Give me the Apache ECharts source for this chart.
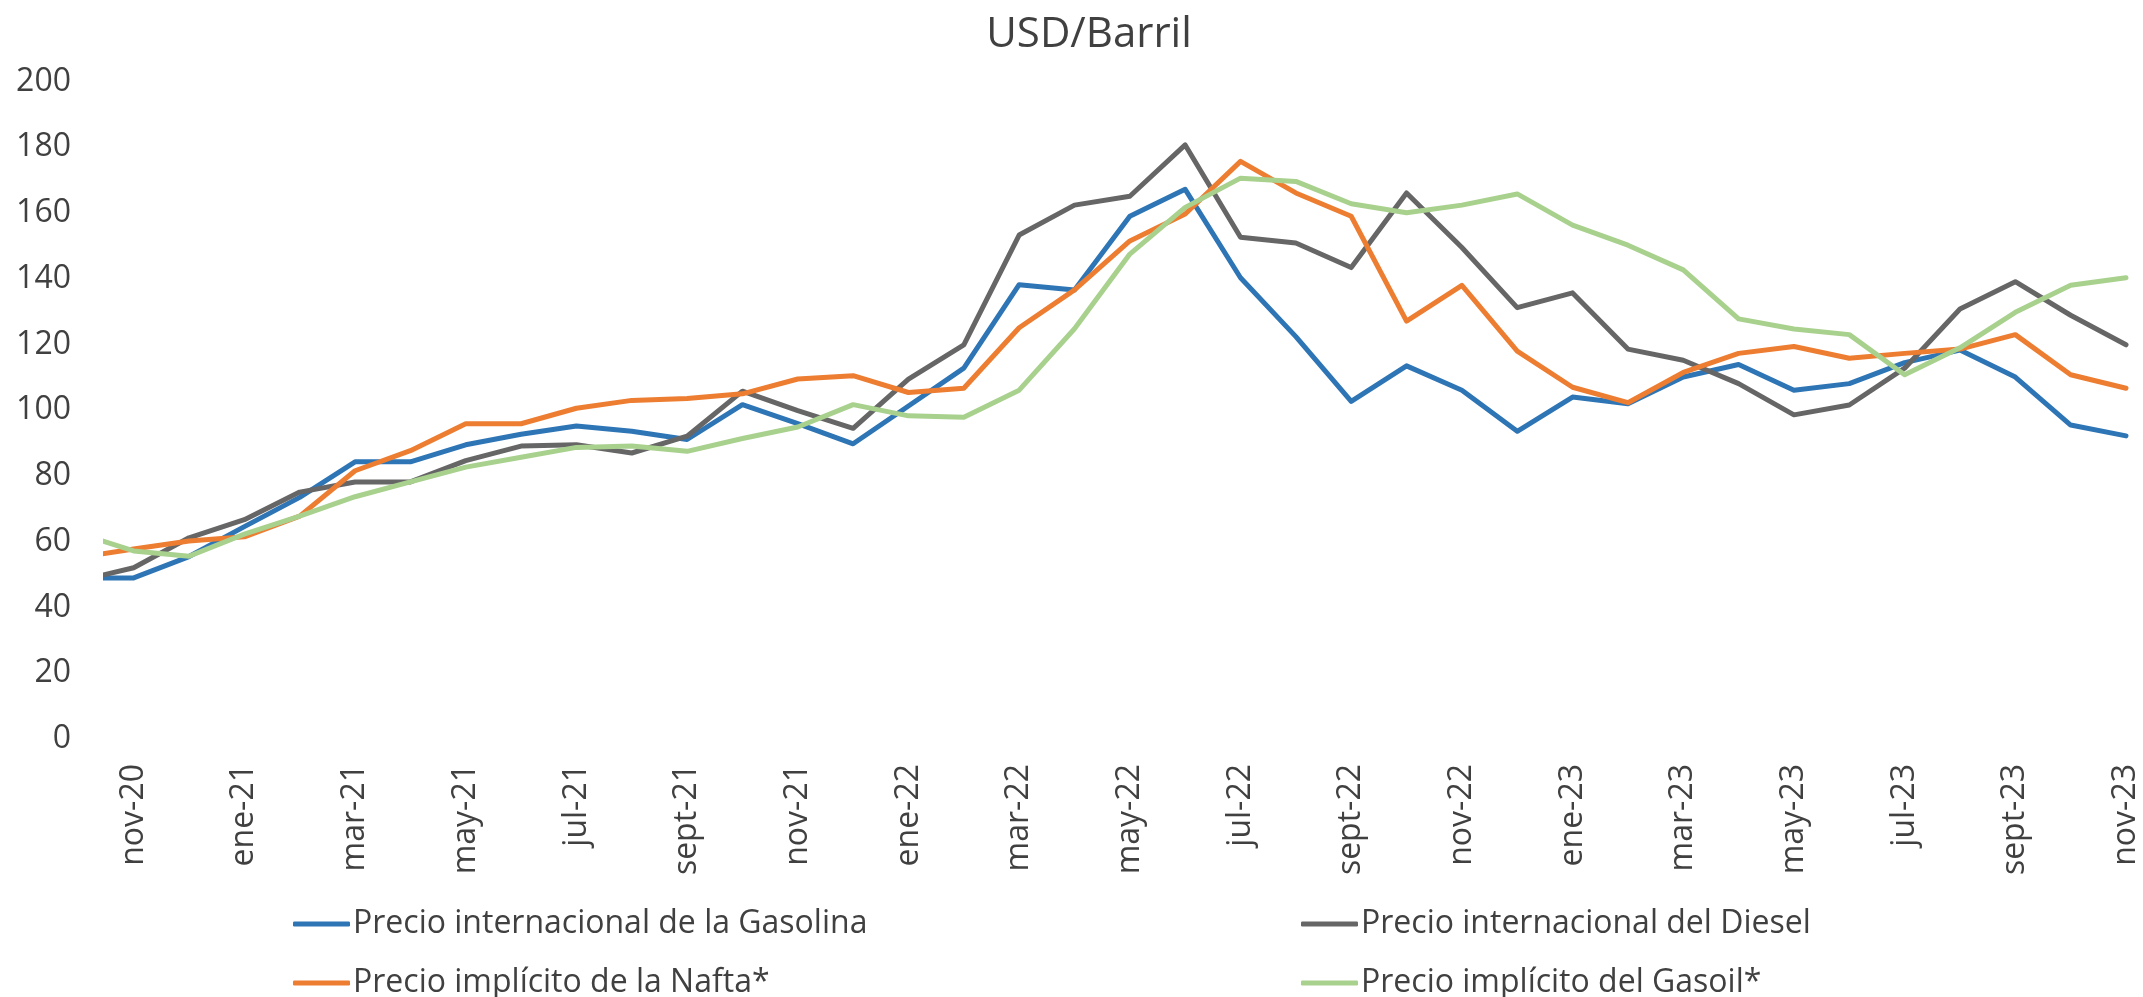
<!DOCTYPE html>
<html>
<head>
<meta charset="utf-8">
<script src="https://cdn.jsdelivr.net/npm/echarts@6.0.0/dist/echarts.min.js"></script>
<style>
html,body{margin:0;padding:0;background:#fff;}
#chart{width:2143px;height:997px;}
</style>
</head>
<body>
<div id="chart"></div>
<script>
// Months (first month oct-20 lies just outside the visible axis, as in the reference)
const months = ['oct-20','nov-20','dic-20','ene-21','feb-21','mar-21','abr-21','may-21','jun-21','jul-21','ago-21','sept-21','oct-21','nov-21','dic-21','ene-22','feb-22','mar-22','abr-22','may-22','jun-22','jul-22','ago-22','sept-22','oct-22','nov-22','dic-22','ene-23','feb-23','mar-23','abr-23','may-23','jun-23','jul-23','ago-23','sept-23','oct-23','nov-23'];
// Tick labels shown on the axis
const tickLabels = ['nov-20','ene-21','mar-21','may-21','jul-21','sept-21','nov-21','ene-22','mar-22','may-22','jul-22','sept-22','nov-22','ene-23','mar-23','may-23','jul-23','sept-23','nov-23'];

const gasolina = [49.0, 49.0, 55.5, 64.6, 73.5, 84.3, 84.3, 89.5, 92.7, 95.2, 93.6, 91.1, 101.7, 95.9, 89.8, 101.3, 112.8, 138.2, 136.6, 159.0, 167.2, 140.3, 122.4, 102.7, 113.5, 106.1, 93.6, 104.0, 102.0, 110.1, 113.9, 106.1, 108.1, 114.5, 118.3, 110.1, 95.5, 92.2];
const diesel   = [48.1, 52.1, 61.2, 66.7, 75.1, 78.2, 78.2, 84.7, 89.1, 89.5, 87.0, 92.1, 105.8, 99.9, 94.5, 109.5, 119.9, 153.3, 162.4, 165.1, 180.7, 152.6, 150.9, 143.4, 166.1, 149.5, 131.2, 135.7, 118.6, 115.2, 108.1, 98.6, 101.6, 112.8, 130.8, 139.1, 128.9, 119.9];
const nafta    = [55.2, 57.8, 60.2, 61.5, 67.8, 81.6, 87.7, 95.9, 95.9, 100.6, 103.0, 103.6, 105.0, 109.5, 110.5, 105.4, 106.7, 125.1, 136.6, 151.5, 159.7, 175.7, 166.1, 159.0, 127.1, 138.0, 118.0, 107.0, 102.3, 111.5, 117.3, 119.4, 115.8, 117.3, 118.6, 123.0, 110.8, 106.7];
const gasoil   = [62.6, 57.2, 55.6, 62.3, 67.8, 73.7, 78.2, 82.7, 85.7, 88.7, 89.1, 87.5, 91.4, 94.9, 101.7, 98.3, 97.9, 106.1, 124.8, 147.5, 161.7, 170.6, 169.6, 162.8, 160.1, 162.4, 165.8, 156.3, 150.2, 142.7, 127.8, 124.7, 123.0, 110.8, 119.0, 129.8, 138.0, 140.3];

const names = ['Precio internacional de la Gasolina','Precio internacional del Diesel','Precio implícito de la Nafta*','Precio implícito del Gasoil*'];
const colors = ['#2E75B6','#666666','#ED7D31','#A9D18E'];
const seriesValues = [gasolina, diesel, nafta, gasoil];

// x position index: nov-20 = 0
const toPairs = arr => arr.map((v, k) => [k - 1, v]);
const tickIdx = tickLabels.map(l => months.indexOf(l) - 1);

const FONT = 'Open Sans';
const TXT = '#404040';

// legend placement (2 columns x 2 rows)
const legendPos = [
  {left: 293, top: 904},   // Gasolina
  {left: 1301, top: 904},  // Diesel
  {left: 293, top: 963},   // Nafta
  {left: 1301, top: 963}   // Gasoil
];

const chart = echarts.init(document.getElementById('chart'), null, {renderer: 'canvas'});
chart.setOption({
  animation: false,
  backgroundColor: '#ffffff',
  title: {
    text: 'USD/Barril',
    left: 1084, top: 9, textAlign: 'center',
    textStyle: {fontFamily: FONT, fontSize: 42, fontWeight: 'normal', color: TXT}
  },
  grid: {left: 106, right: 17, top: 81.5, bottom: 258},
  xAxis: {
    type: 'value', min: -0.5, max: 36,
    axisLine: {show: false}, axisTick: {show: false}, splitLine: {show: false},
    axisLabel: {
      customValues: tickIdx,
      formatter: v => months[Math.round(v) + 1],
      rotate: 90, margin: 25,
      fontFamily: FONT, fontSize: 32, color: TXT
    }
  },
  yAxis: {
    type: 'value', min: 0, max: 200, interval: 20,
    axisLine: {show: false}, axisTick: {show: false}, splitLine: {show: false},
    axisLabel: {margin: 35, fontFamily: FONT, fontSize: 32, color: TXT, padding: [6, 0, 0, 0]}
  },
  legend: names.map((n, i) => ({
    data: [n], orient: 'horizontal', left: legendPos[i].left, top: legendPos[i].top,
    padding: 0,
    icon: 'roundRect', itemWidth: 57, itemHeight: 5,
    textStyle: {fontFamily: FONT, fontSize: 32, lineHeight: 40, color: TXT, padding: [0, 0, 0, -2]}
  })),
  series: seriesValues.map((vals, i) => ({
    name: names[i], type: 'line', data: toPairs(vals),
    symbol: 'none', clip: true,
    color: colors[i],
    lineStyle: {width: 5, color: colors[i], cap: 'round', join: 'round'}
  }))
});
</script>
</body>
</html>
